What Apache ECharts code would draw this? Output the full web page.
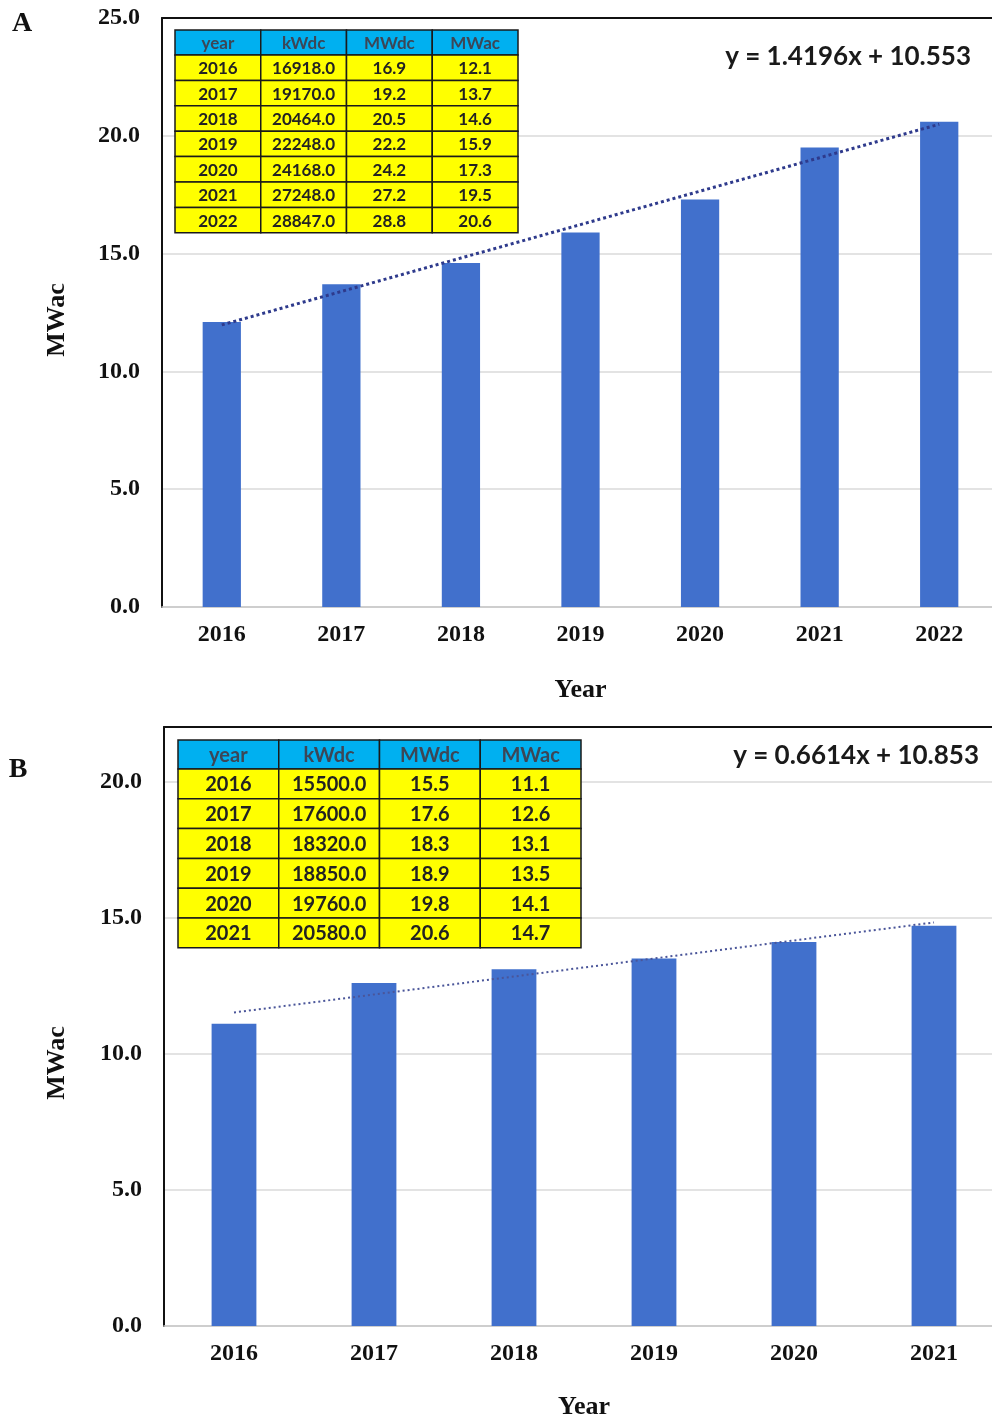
<!DOCTYPE html>
<html>
<head>
<meta charset="utf-8">
<script src="https://cdn.jsdelivr.net/npm/echarts@6/dist/echarts.min.js"></script>
<style>
  html, body { margin: 0; padding: 0; background: #fff; }
  #chart { width: 992px; height: 1418px; }
</style>
</head>
<body>
<div id="chart"></div>
<script>
// Panel A: 2016-2022
const yearsA = ['2016', '2017', '2018', '2019', '2020', '2021', '2022'];
const kWdcA = [16918.0, 19170.0, 20464.0, 22248.0, 24168.0, 27248.0, 28847.0];
const mWdcA = [16.9, 19.2, 20.5, 22.2, 24.2, 27.2, 28.8];
const mWacA = [12.1, 13.7, 14.6, 15.9, 17.3, 19.5, 20.6];
const trendA = { slope: 1.4196, intercept: 10.553 };

// Panel B: 2016-2021
const yearsB = ['2016', '2017', '2018', '2019', '2020', '2021'];
const kWdcB = [15500.0, 17600.0, 18320.0, 18850.0, 19760.0, 20580.0];
const mWdcB = [15.5, 17.6, 18.3, 18.9, 19.8, 20.6];
const mWacB = [11.1, 12.6, 13.1, 13.5, 14.1, 14.7];
const trendB = { slope: 0.6614, intercept: 10.853 };

const tableHeader = ['year', 'kWdc', 'MWdc', 'MWac'];

const BAR = '#4170CC';
const TREND = '#2E3A8C';
const SERIF = '"Liberation Serif", "Times New Roman", serif';
const SANS = 'Lato, "Liberation Sans", Arial, sans-serif';

// linear trend from its equation, x = 1..n
function trendValues(t, n) {
  const out = [];
  for (let i = 1; i <= n; i++) out.push(+(t.slope * i + t.intercept).toFixed(3));
  return out;
}

function eqText(t) {
  return 'y = ' + t.slope + 'x + ' + t.intercept;
}

// data table drawn as graphic cells
function buildTable(x0, y0, colW, headH, rowH, years, kw, mwdc, mwac, fontSize) {
  const els = [];
  const rows = [tableHeader].concat(years.map((y, i) => [
    y, kw[i].toFixed(1), mwdc[i].toFixed(1), mwac[i].toFixed(1)
  ]));
  let y = y0;
  rows.forEach((row, r) => {
    const h = r === 0 ? headH : rowH;
    let x = x0;
    row.forEach((cell, c) => {
      els.push({
        type: 'rect',
        shape: { x: x, y: y, width: colW, height: h },
        style: { fill: r === 0 ? '#00B0F0' : '#FFFF00', stroke: '#1a1a1a', lineWidth: 1.5 },
        z: 10
      });
      els.push({
        type: 'text',
        style: {
          text: cell, x: x + colW / 2, y: y + h / 2 + 1,
          textAlign: 'center', textVerticalAlign: 'middle', verticalAlign: 'middle',
          fill: r === 0 ? '#3c4656' : '#222',
          font: 'bold ' + fontSize + 'px ' + SANS
        },
        z: 11
      });
      x += colW;
    });
    y += h;
  });
  return els;
}

function label(text, x, y, font, rotation) {
  return {
    type: 'text', x: x, y: y, rotation: rotation || 0,
    style: {
      text: text, x: 0, y: 0, textAlign: 'center',
      textVerticalAlign: 'middle', verticalAlign: 'middle',
      fill: '#111', font: font
    },
    z: 12
  };
}

const grids = [
  { left: 162, right: -7, top: 18, height: 589, outerBoundsMode: 'none', containLabel: false },
  { left: 164, right: -12, top: 727, height: 599, outerBoundsMode: 'none', containLabel: false }
];

function bottomAxis(gi, cats, gap) {
  return {
    type: 'category', gridIndex: gi, data: cats, position: 'bottom',
    axisLine: { show: true, lineStyle: { color: '#C8C8C8', width: 1.5 } },
    axisTick: { show: false },
    axisLabel: { margin: 16, color: '#111', fontFamily: SERIF, fontWeight: 'bold', fontSize: 24 },
    name: 'Year', nameLocation: 'middle', nameGap: gap,
    nameTextStyle: { color: '#111', fontFamily: SERIF, fontWeight: 'bold', fontSize: 26 }
  };
}

function topAxis(gi, cats) {
  return {
    type: 'category', gridIndex: gi, data: cats, position: 'top',
    axisLine: { show: true, lineStyle: { color: '#111', width: 2 } },
    axisTick: { show: false }, axisLabel: { show: false }, splitLine: { show: false }
  };
}

function valueAxis(gi, max) {
  return {
    type: 'value', gridIndex: gi, min: 0, max: max, interval: 5,
    axisLine: { show: true, lineStyle: { color: '#111', width: 2 } },
    axisTick: { show: false },
    axisLabel: {
      margin: 22, color: '#111', fontFamily: SERIF, fontWeight: 'bold', fontSize: 24,
      showMaxLabel: max % 5 === 0,
      formatter: v => v.toFixed(1)
    },
    splitLine: { show: true, lineStyle: { color: '#DADADA', width: 1.5 } }
  };
}

const chart = echarts.init(document.getElementById('chart'), null, { renderer: 'canvas' });

chart.setOption({
  animation: false,
  backgroundColor: '#fff',
  grid: grids,
  xAxis: [bottomAxis(0, yearsA, 70), topAxis(0, yearsA), bottomAxis(1, yearsB, 68), topAxis(1, yearsB)],
  yAxis: [valueAxis(0, 25), valueAxis(1, 22)],
  series: [
    {
      type: 'bar', xAxisIndex: 0, yAxisIndex: 0, data: mWacA,
      barWidth: '32%', itemStyle: { color: BAR }
    },
    {
      type: 'line', xAxisIndex: 0, yAxisIndex: 0, data: trendValues(trendA, yearsA.length),
      symbol: 'none', z: 5,
      lineStyle: { color: TREND, width: 3, type: [3, 3], cap: 'butt' }
    },
    {
      type: 'bar', xAxisIndex: 2, yAxisIndex: 1, data: mWacB,
      barWidth: '32%', itemStyle: { color: BAR }
    },
    {
      type: 'line', xAxisIndex: 2, yAxisIndex: 1, data: trendValues(trendB, yearsB.length),
      symbol: 'none', z: 5,
      lineStyle: { color: '#4A5599', width: 2, type: [2, 3], cap: 'butt' }
    }
  ],
  graphic: [].concat(
    buildTable(175, 30, 85.75, 25, 25.4, yearsA, kWdcA, mWdcA, mWacA, 17),
    buildTable(178, 740, 100.75, 29, 29.8, yearsB, kWdcB, mWdcB, mWacB, 20),
    [
      label('A', 22, 24, 'bold 28px ' + SERIF),
      label('B', 18, 770, 'bold 28px ' + SERIF),
      label('MWac', 57, 320, 'bold 26px ' + SERIF, Math.PI / 2),
      label('MWac', 57, 1063, 'bold 26px ' + SERIF, Math.PI / 2),
      {
        type: 'text', z: 12,
        style: { text: eqText(trendA), x: 971, y: 57, textAlign: 'right',
          textVerticalAlign: 'middle', verticalAlign: 'middle', fill: '#1a1a1a',
          font: 'bold 26px ' + SANS }
      },
      {
        type: 'text', z: 12,
        style: { text: eqText(trendB), x: 979, y: 756, textAlign: 'right',
          textVerticalAlign: 'middle', verticalAlign: 'middle', fill: '#1a1a1a',
          font: 'bold 26px ' + SANS }
      }
    ]
  )
});
</script>
</body>
</html>
